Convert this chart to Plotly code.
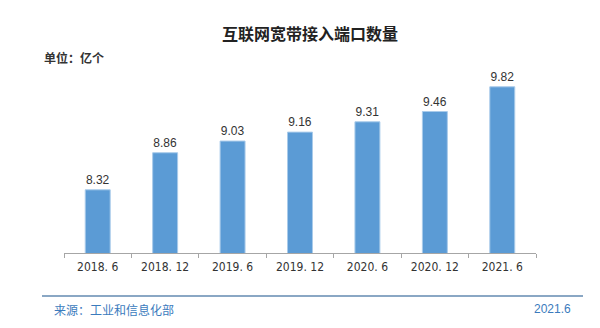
import plotly.graph_objects as go

# Broadband access ports (unit: 100 million)
periods = ["2018. 6", "2018. 12", "2019. 6", "2019. 12", "2020. 6", "2020. 12", "2021. 6"]
ports = [8.32, 8.86, 9.03, 9.16, 9.31, 9.46, 9.82]

title_text = "互联网宽带接入端口数量"
unit_text = "单位：亿个"
source_text = "来源：工业和信息化部"
date_text = "2021.6"

W, H = 600, 328
ML, MR, MT, MB = 64, 64, 60, 75
plot_w = W - ML - MR
plot_h = H - MT - MB


def px_x(px):
    return (px - ML) / plot_w


def px_y(py):
    return (H - MB - py) / plot_h


cjk = "Noto Sans CJK SC"
blue_text = "#3b7bbd"

fig = go.Figure(
    go.Bar(
        x=periods,
        y=ports,
        width=0.37,
        marker=dict(color="#5b9bd5", line=dict(color="#a9cbea", width=1)),
        texttemplate="%{y:.2f}",
        textposition="outside",
        textfont=dict(family="Liberation Sans, Arial", size=12, color="#333333"),
        cliponaxis=False,
    )
)

fig.update_layout(
    width=W,
    height=H,
    margin=dict(l=ML, r=MR, t=MT, b=MB),
    paper_bgcolor="white",
    plot_bgcolor="white",
    showlegend=False,
    xaxis=dict(
        type="category",
        showline=True,
        linecolor="#a6a6a6",
        linewidth=1,
        ticks="outside",
        tickson="boundaries",
        ticklen=4,
        tickcolor="#a6a6a6",
        ticklabelstandoff=3,
        showgrid=False,
        tickfont=dict(family="DejaVu Sans Condensed, Liberation Sans", size=12, color="#333333"),
    ),
    yaxis=dict(
        range=[7.4, 10.21],
        visible=False,
        showgrid=False,
        zeroline=False,
    ),
    annotations=[
        dict(
            text="<b>" + title_text + "</b>",
            x=px_x(310), y=px_y(33), xref="paper", yref="paper",
            xanchor="center", yanchor="middle", showarrow=False,
            font=dict(family=cjk, size=16, color="#222222"),
        ),
        dict(
            text="<b>" + unit_text + "</b>",
            x=px_x(42), y=px_y(58), xref="paper", yref="paper",
            xanchor="left", yanchor="middle", showarrow=False,
            font=dict(family=cjk, size=12, color="#333333"),
        ),
        dict(
            text=source_text,
            x=px_x(52), y=px_y(309), xref="paper", yref="paper",
            xanchor="left", yanchor="middle", showarrow=False,
            font=dict(family=cjk, size=12, color=blue_text),
        ),
        dict(
            text=date_text,
            x=px_x(573), y=px_y(309), xref="paper", yref="paper",
            xanchor="right", yanchor="middle", showarrow=False,
            font=dict(family="Liberation Sans, Arial", size=12, color=blue_text),
        ),
    ],
    shapes=[
        dict(
            type="line", xref="paper", yref="paper",
            x0=px_x(42), x1=px_x(583), y0=px_y(296), y1=px_y(296),
            line=dict(color="#8aa7c4", width=2),
        )
    ],
)

fig.write_html("out.html")
